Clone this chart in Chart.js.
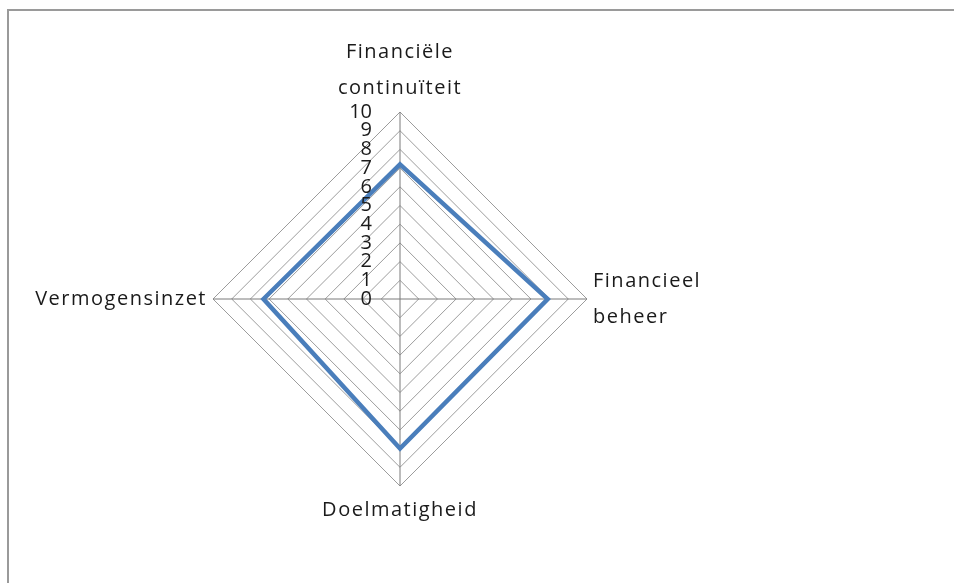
<!DOCTYPE html>
<html>
<head>
<meta charset="utf-8">
<script src="https://cdn.jsdelivr.net/npm/chart.js@4.4.1/dist/chart.umd.min.js"></script>
<style>
  html, body { margin: 0; padding: 0; background: #fff; overflow: hidden; }
  body { width: 954px; height: 583px; position: relative; }
  .frame {
    position: absolute; left: 7px; top: 9px; width: 950px; height: 600px;
    border-left: 2px solid #9a9a9a; border-top: 2px solid #9a9a9a;
  }
  .wrap { position: absolute; left: -50px; top: 16px; width: 900px; height: 530px; }
</style>
</head>
<body>
<div class="frame"></div>
<div class="wrap"><canvas id="radar"></canvas></div>
<script>
// axis categories (clockwise from top)
var categories = [
  ['Financiële', 'continuïteit'],
  ['Financieel', 'beheer'],
  'Doelmatigheid',
  'Vermogensinzet'
];
var scores = [7.2, 7.9, 8.0, 7.3];
var tickValues = [0, 1, 2, 3, 4, 5, 6, 7, 8, 9, 10];

// the source chart has loosely spaced label text
var spacing = {
  id: 'spacing',
  beforeUpdate: function (chart) { chart.ctx.letterSpacing = '1.5px'; },
  beforeDraw: function (chart) { chart.ctx.letterSpacing = '1.5px'; }
};

// tick numbers sit left of the vertical spoke, right-aligned
var sideTicks = {
  id: 'sideTicks',
  afterDraw: function (chart) {
    var s = chart.scales.r;
    var ctx = chart.ctx;
    ctx.save();
    ctx.letterSpacing = '0px';
    ctx.font = '20px "Open Sans", sans-serif';
    ctx.fillStyle = '#1a1a1a';
    ctx.textAlign = 'right';
    ctx.textBaseline = 'middle';
    tickValues.forEach(function (v) {
      var d = s.getDistanceFromCenterForValue(v);
      ctx.fillText(String(v), s.xCenter - 28, s.yCenter - d);
    });
    ctx.restore();
  }
};

new Chart(document.getElementById('radar'), {
  type: 'radar',
  data: {
    labels: categories,
    datasets: [{
      data: scores,
      borderColor: '#4a7ebb',
      borderWidth: 4.5,
      backgroundColor: 'rgba(0,0,0,0)',
      fill: false,
      pointRadius: 0,
      pointHoverRadius: 0,
      tension: 0
    }]
  },
  options: {
    responsive: true, maintainAspectRatio: false,
    animation: false,
    layout: { padding: 0 },
    plugins: { legend: { display: false }, tooltip: { enabled: false } },
    scales: {
      r: {
        min: 0, max: 10,
        ticks: { display: false, stepSize: 1 },
        grid: { color: '#9c9c9c', lineWidth: 1 },
        angleLines: { color: '#7a7a7a', lineWidth: 1 },
        pointLabels: {
          color: '#1a1a1a',
          padding: 6,
          font: { family: '"Open Sans", sans-serif', size: 20, lineHeight: 1.8 }
        }
      }
    }
  },
  plugins: [spacing, sideTicks]
});
</script>
</body>
</html>
